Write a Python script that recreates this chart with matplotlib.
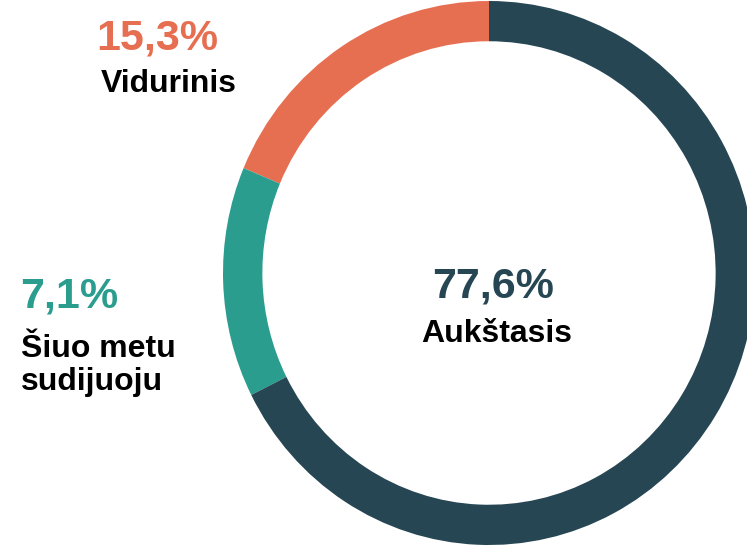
import matplotlib
matplotlib.use('Agg')
import matplotlib.pyplot as plt

plt.rcParams['font.family'] = ['Liberation Sans', 'DejaVu Sans']

# duomenys
categories = ['Vidurinis', 'Šiuo metu\nsudijuoju', 'Aukštasis']
pct_labels = ['15,3%', '7,1%', '77,6%']
# arc shares as drawn in the ring
arc_share = [18.7, 13.7, 67.6]
colors = ['#E76F51', '#2A9D8F', '#264653']

W, H = 747, 546


def px(x, y):
    # pixel -> figure coords
    return x / W, 1 - y / H


fig = plt.figure(figsize=(W / 100, H / 100), dpi=100)
# centre ~ (489, 273) px, radius ~266 x 272 px
ax = fig.add_axes([(489 - 266) / W, (H - 273 - 272) / H, 532 / W, 544 / H])
ax.pie(arc_share, colors=colors, startangle=90, counterclock=True,
       wedgeprops=dict(width=0.148, linewidth=0))
ax.set_aspect('auto')
ax.set_xlim(-1, 1)
ax.set_ylim(-1, 1)
ax.axis('off')

# Vidurinis
fig.text(*px(96, 49), pct_labels[0], color=colors[0], fontsize=31,
         fontweight='bold', ha='left', va='baseline')
fig.text(*px(101, 92), categories[0], color='black', fontsize=23,
         fontweight='bold', ha='left', va='baseline')

# Šiuo metu sudijuoju
fig.text(*px(20, 308), pct_labels[1], color=colors[1], fontsize=31,
         fontweight='bold', ha='left', va='baseline')
fig.text(*px(21, 357), 'Šiuo metu', color='black', fontsize=23,
         fontweight='bold', ha='left', va='baseline')
fig.text(*px(21, 390), 'sudijuoju', color='black', fontsize=23,
         fontweight='bold', ha='left', va='baseline')

# Aukštasis
fig.text(*px(493, 297), pct_labels[2], color=colors[2], fontsize=31,
         fontweight='bold', ha='center', va='baseline')
fig.text(*px(497, 342), categories[2], color='black', fontsize=23,
         fontweight='bold', ha='center', va='baseline')

fig.savefig('out.png', dpi=100)
